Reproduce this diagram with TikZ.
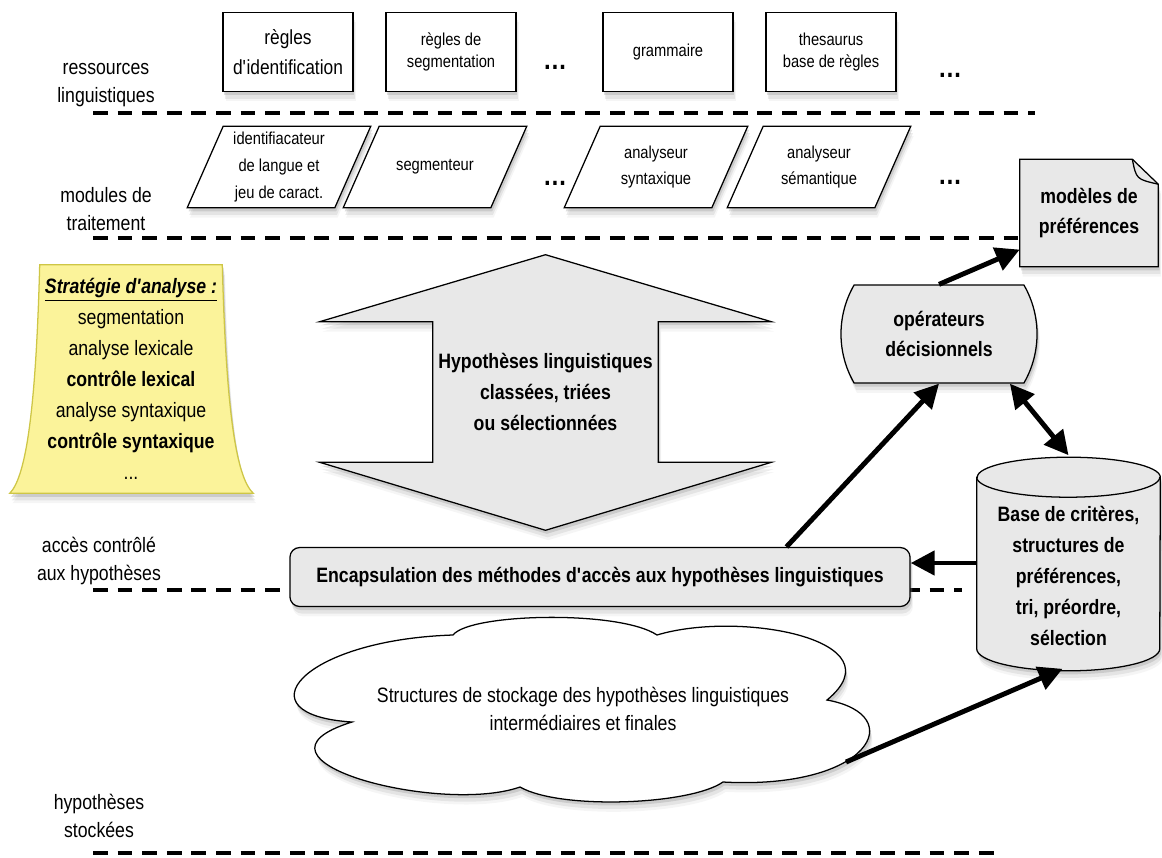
\documentclass[tikz,border=0pt]{standalone}
\usepackage{fontspec}
\setmainfont{Liberation Sans}[FakeStretch=0.85]
\usetikzlibrary{positioning, arrows.meta, shapes.misc, shadows, backgrounds}
\usetikzlibrary{calc}

\definecolor{boxgray}{HTML}{E8E8E8}
\definecolor{notefill}{HTML}{FBF39A}
\definecolor{noteline}{HTML}{CEC646}

\tikzset{
  shdw/.style={drop shadow={shadow xshift=1pt, shadow yshift=-2.5pt, opacity=.25},
               drop shadow={shadow xshift=1.5pt, shadow yshift=-5pt, opacity=.15},
               drop shadow={shadow xshift=2pt, shadow yshift=-7pt, opacity=.08}},
  txt/.style={font=\fontsize{14.8}{20}\selectfont, align=center},
  gras/.style={font=\fontsize{14.8}{21}\selectfont\bfseries, align=center},
  petit/.style={font=\fontsize{12.3}{16}\selectfont, align=center},
  ressource/.style={draw, line width=0.9pt, fill=white, minimum width=3.25cm,
                    minimum height=1.975cm, shdw, petit},
  module/.style={minimum width=3.675cm, minimum height=2.025cm, inner sep=1pt,
                 font=\fontsize{12.3}{19}\selectfont, align=center},
  couche/.style={dash pattern=on 10.5pt off 7pt, line width=3.2pt},
  fleche/.style={->, line width=3.5pt},
  suite/.style={font=\fontsize{20}{20}\selectfont\bfseries},
  grisbox/.style={draw, line width=0.9pt, fill=boxgray, shdw},
}

\begin{document}
\begin{tikzpicture}[x=0.025cm, y=-0.025cm, node distance=4.075cm, on grid,
    >={Triangle[length=17pt, width=17pt]}]
    \useasboundingbox (0,0) rectangle (1162,857);

    % couches
    \draw[couche] (93,113) -- (1035,113);
    \draw[couche] (93,238) -- (1020,238);
    \draw[couche] (93,590) -- (962,590);
    \draw[couche] (93,853) -- (1003,853);

    \node[txt] (lres) at (106,85) {ressources\\linguistiques};
    \node[txt] (lmod) at (106,209) {modules de\\traitement};
    \node[txt] (lacc) at (99,561) {accès contrôlé\\aux hypothèses};
    \node[txt] (lhyp) at (99,816) {hypothèses\\stockées};

    % ressources linguistiques
    \node[ressource, font=\fontsize{14.5}{21}\selectfont] (rid) at (288,52) {règles\\d\textquotesingle identification};
    \node[ressource] (rseg) [right=of rid] {règles de\\segmentation};
    \node[suite] (d1) at (555,67) {…};
    \node[ressource] (gram) at (668,52) {grammaire};
    \node[ressource] (thes) [right=of gram] {thesaurus\\base de règles};
    \node[suite] (d2) at (950,75) {…};

    % modules de traitement
    \node[module] (ident) at (279,167) {identifiacateur\\de langue et\\jeu de caract.};
    \node[module] (segm) at (435,167) {segmenteur};
    \node[suite] (d3) at (555,183) {…};
    \node[module] (synt) at (656,167) {analyseur\\syntaxique};
    \node[module] (sem) at (819,167) {analyseur\\sémantique};
    \node[suite] (d4) at (950,182) {…};

    \node[gras, minimum width=3.45cm, minimum height=2.675cm] (models) at (1089,213) {modèles de\\préférences};

    \node[font=\fontsize{14.8}{22}\selectfont, align=center, minimum width=4.55cm, minimum height=5.7cm] (strat) at (131,379)
        {\underline{\textbf{\textit{Stratégie d\textquotesingle analyse~:}}}\\segmentation\\analyse lexicale\\\textbf{contrôle lexical}\\analyse syntaxique\\\textbf{contrôle syntaxique}\\...};

    \node[gras, font=\fontsize{14.8}{22}\selectfont\bfseries, minimum width=5.625cm, minimum height=3.5cm] (hyp) at (545.5,392)
        {Hypothèses linguistiques\\classées, triées\\ou sélectionnées};

    \node[grisbox, gras, rounded rectangle, rounded rectangle arc length=60,
          minimum width=3.95cm, minimum height=2.45cm] (op) at (939,334) {opérateurs\\décisionnels};

    \node[gras, font=\fontsize{14.8}{22}\selectfont\bfseries, minimum width=4.575cm, minimum height=4.275cm] (crit) at (1068.5,576)
        {Base de critères,\\structures de\\préférences,\\tri, préordre,\\sélection};

    \node[grisbox, gras, rounded corners=7pt, minimum width=15.5cm, minimum height=1.475cm] (enc) at (600,577)
        {Encapsulation des méthodes d\textquotesingle accès aux hypothèses linguistiques};

    \node[txt] (stock) at (583,709) {Structures de stockage des hypothèses linguistiques\\intermédiaires et finales};

    % corps du cylindre, un peu plus haut que le texte
    \coordinate (cnw) at ($(crit.north west)+(0,-13)$);
    \coordinate (cne) at ($(crit.north east)+(0,-13)$);
    \coordinate (csw) at ($(crit.south west)+(0,-13)$);

    \begin{scope}[on background layer]
        % modules en parallelogrammes
        \foreach \m in {ident, segm, synt, sem}
            \draw[line width=0.9pt, fill=white, shdw] ($(\m.south west)+(-18,0)$) -- ($(\m.north west)+(18,0)$)
                -- ($(\m.north east)+(18,0)$) -- ($(\m.south east)+(-18,0)$) -- cycle;
        % note jaune
        \draw[line width=0.9pt, draw=noteline, fill=notefill, shdw]
            (strat.north west) .. controls ($(strat.north west)+(-4,155)$) and ($(strat.south west)+(-15,-15)$) .. ($(strat.south west)+(-30,0)$)
            -- ($(strat.south east)+(31,0)$)
            .. controls ($(strat.south east)+(15,-15)$) and ($(strat.north east)+(4,155)$) .. (strat.north east) -- cycle;
        % grande double fleche
        \draw[grisbox] (hyp.north west) -- ++(-113,0) -- ($(hyp.north)+(0,-67)$) -- ($(hyp.north east)+(113,0)$)
            -- (hyp.north east) -- (hyp.south east) -- ++(113,0) -- ($(hyp.south)+(0,68)$)
            -- ($(hyp.south west)+(-113,0)$) -- (hyp.south west) -- cycle;
        % document
        \draw[grisbox] (models.south west) -- (models.north west) -- ($(models.north east)+(-26,0)$)
            -- ($(models.north east)+(0,25)$) -- (models.south east) -- cycle;
        \draw[line width=0.9pt] ($(models.north east)+(-26,0)$) .. controls ($(models.north east)+(-22,20)$) .. ($(models.north east)+(0,25)$);
        % cylindre
        \draw[grisbox] (cnw) -- (csw)
            arc[start angle=180, end angle=360, x radius=2.2875cm, y radius=0.55cm]
            -- (cne) arc[start angle=0, end angle=180, x radius=2.2875cm, y radius=0.5cm] -- cycle;
        \draw[line width=0.9pt] (cnw) arc[start angle=180, end angle=360, x radius=2.2875cm, y radius=0.5cm];
        % nuage
        \draw[line width=0.9pt, fill=white, shdw] (453,635) .. controls (470,613) and (620,610) .. (657,635)
            .. controls (740,610) and (900,640) .. (827,700)
            .. controls (910,715) and (870,790) .. (723,782)
            .. controls (690,805) and (560,810) .. (520,787)
            .. controls (440,815) and (230,760) .. (352,722)
            .. controls (240,715) and (300,640) .. (453,635) -- cycle;
    \end{scope}

    \coordinate (modin) at ($(models.south west)!0.16!(models.north west)$);
    \coordinate (encout) at ($(enc.north west)!0.8!(enc.north east)$);
    \coordinate (crittop) at ($(crit.north)+(0,-35)$);
    \coordinate (critout) at ($(crit.west)+(0,-13)$);
    \coordinate (critbot) at ($(crit.south)+(-6,7)$);
    \coordinate (critin) at (critout -| enc.east);
    \coordinate (cloudR) at (846,762);

    \path[fleche]
    (op.north) edge (modin)
    (encout) edge (op.south)
    (op.-35) edge[<->] (crittop)
        (critout) edge (critin)
    (cloudR) edge (critbot);
\end{tikzpicture}
\end{document}
